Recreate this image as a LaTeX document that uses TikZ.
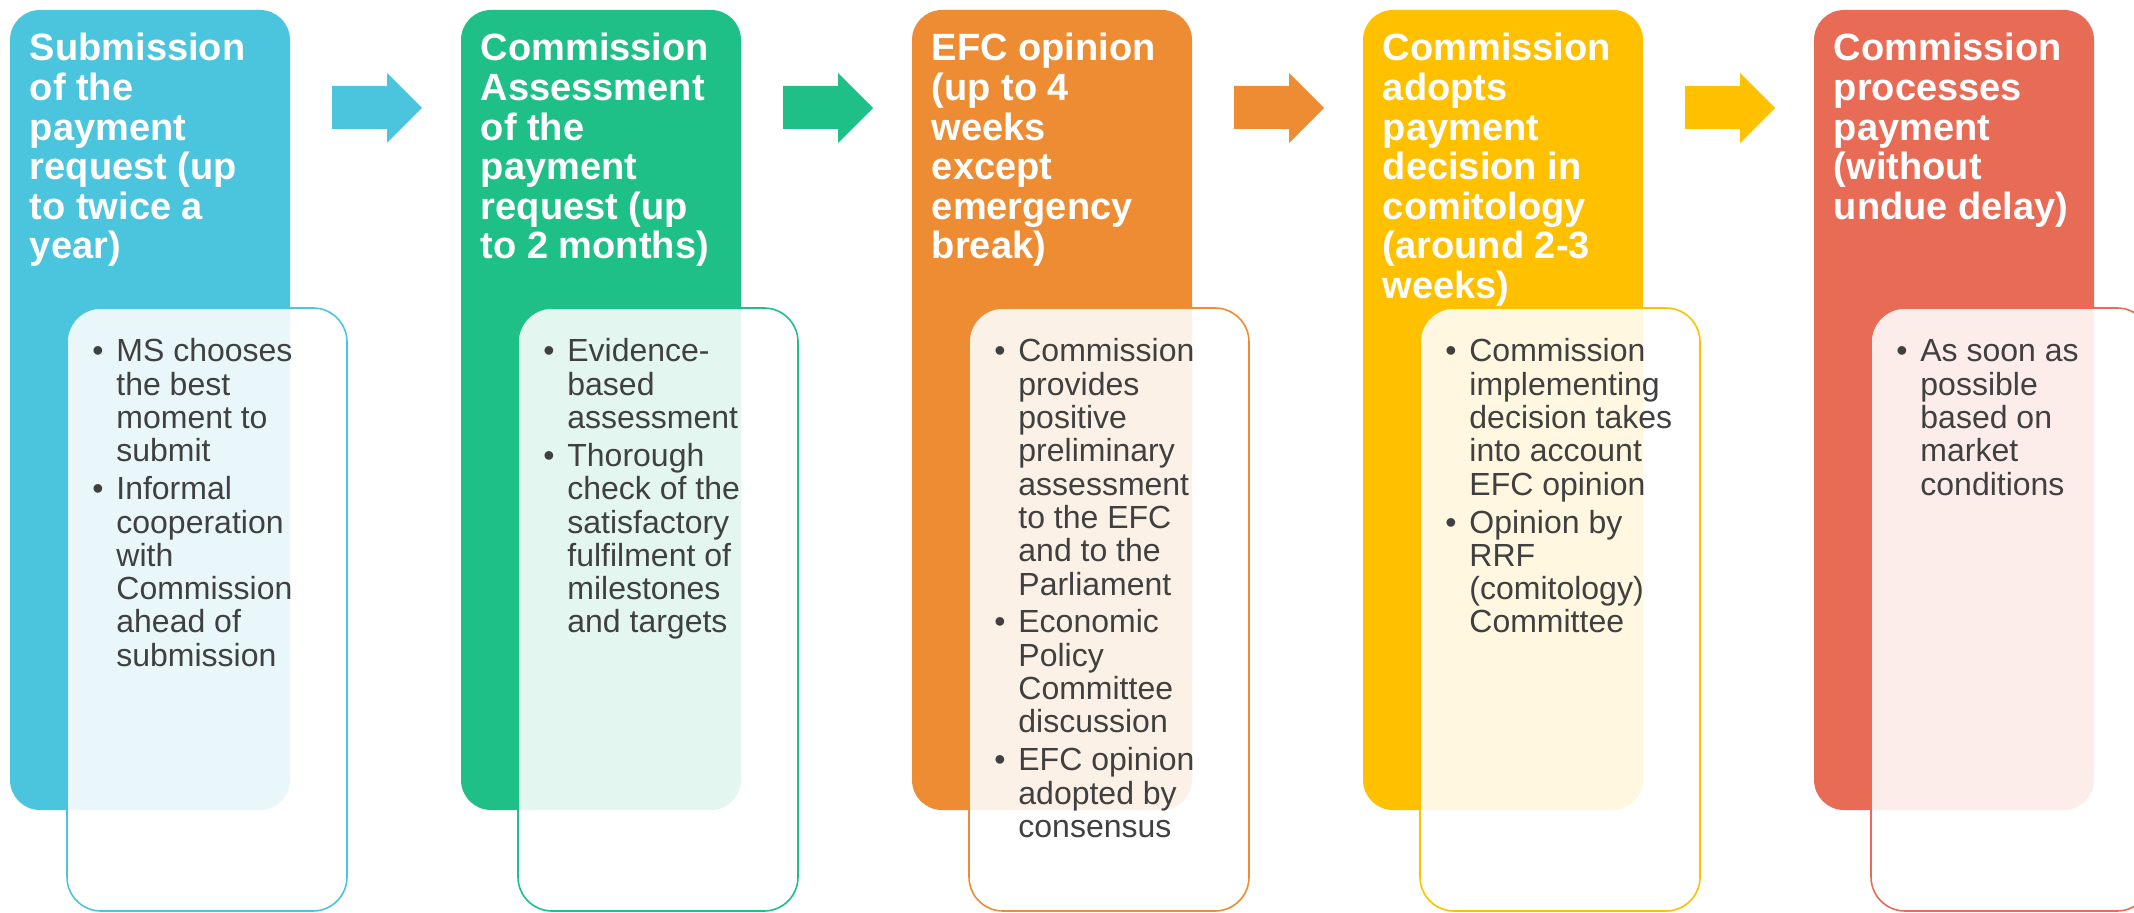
\documentclass[tikz,border=0pt]{standalone}
\usepackage{fontspec}
\setmainfont{Liberation Sans}
\definecolor{cA}{HTML}{4BC4DD}
\definecolor{cB}{HTML}{1FBF88}
\definecolor{cC}{HTML}{ED8C33}
\definecolor{cD}{HTML}{FFC000}
\definecolor{cE}{HTML}{E86B55}
\definecolor{bodygray}{HTML}{404040}
\newcommand\bul{\leavevmode\makebox[0pt][r]{\makebox[12pt][l]{•}}}
\tikzset{
  bigbox/.style={fill=#1, rounded corners=15pt},
  innerbox/.style={draw=#1, line width=0.8pt, fill=white, fill opacity=0.88, rounded corners=17pt},
  stagearrow/.style={fill=#1},
  titletext/.style={text=white, font=\fontsize{19}{19.8}\selectfont\bfseries, inner sep=0pt, anchor=base west},
  bodytext/.style={text=bodygray, font=\fontsize{16}{16.65}\selectfont, inner sep=0pt, anchor=base west},
}
% #1 index, #2 left x (px), #3 colour, #4 title, #5 body
\newcommand\stage[5]{%
  \coordinate (box#1) at (#2,10);
  \fill[bigbox=#3] (box#1) rectangle ++(280,800);
  \path[innerbox=#3] (#2+57,308) rectangle ++(280,603);
  \node[titletext] (title#1) at (#2+19.5,61) {\parbox[t]{200pt}{\raggedright #4}};
  \node[bodytext] (body#1) at (#2+106,362) {\parbox[t]{170pt}{\raggedright #5}};
}
\newcommand\stagearrowat[2]{%
  \fill[stagearrow=#2] (#1+322,86) -- (#1+377,86) -- (#1+377,73) -- (#1+412,108)
    -- (#1+377,143) -- (#1+377,129) -- (#1+322,129) -- cycle;
}
\begin{document}
\begin{tikzpicture}[x=0.5pt,y=-0.5pt]
\useasboundingbox (0,0) rectangle (2134,913);
\stage{1}{10}{cA}{Submission\\of the\\payment\\request (up\\to twice a\\year)}
  {\bul MS chooses\\the best\\moment to\\submit\\[2.3pt]\bul Informal\\cooperation\\with\\Commission\\ahead of\\submission}
\stage{2}{461}{cB}{Commission\\Assessment\\of the\\payment\\request (up\\to 2 months)}
  {\bul Evidence-\\based\\assessment\\[2.3pt]\bul Thorough\\check of the\\satisfactory\\fulfilment of\\milestones\\and targets}
\stage{3}{912}{cC}{EFC opinion\\(up to 4\\weeks\\except\\emergency\\break)}
  {\bul Commission\\provides\\positive\\preliminary\\assessment\\to the EFC\\and to the\\Parliament\\[2.3pt]\bul Economic\\Policy\\Committee\\discussion\\[2.3pt]\bul EFC opinion\\adopted by\\consensus}
\stage{4}{1363}{cD}{Commission\\adopts\\payment\\decision in\\comitology\\(around 2-3\\weeks)}
  {\bul Commission\\implementing\\decision takes\\into account\\EFC opinion\\[2.3pt]\bul Opinion by\\RRF\\(comitology)\\Committee}
\stage{5}{1814}{cE}{Commission\\processes\\payment\\(without\\undue delay)}
  {\bul As soon as\\possible\\based on\\market\\conditions}
\stagearrowat{10}{cA}
\stagearrowat{461}{cB}
\stagearrowat{912}{cC}
\stagearrowat{1363}{cD}
\end{tikzpicture}
\end{document}
